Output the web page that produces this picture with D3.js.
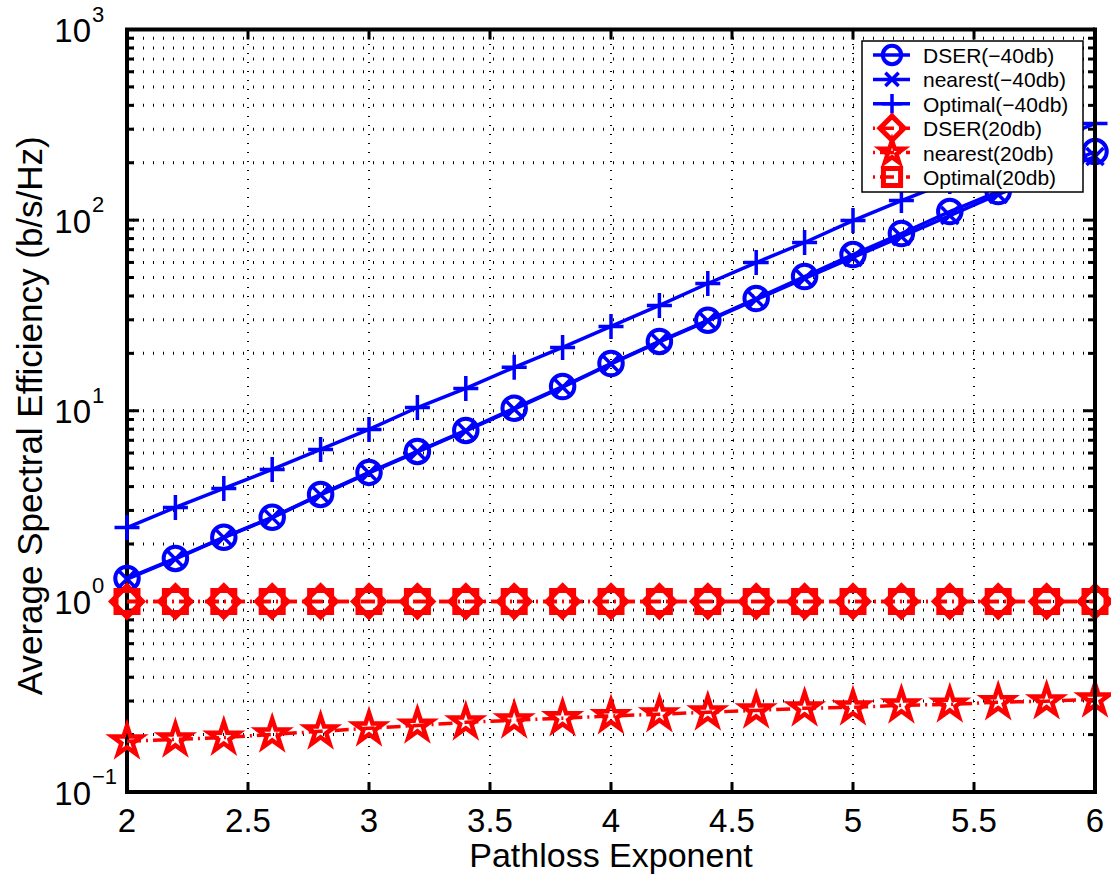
<!DOCTYPE html>
<html><head><meta charset="utf-8">
<script src="https://cdn.jsdelivr.net/npm/d3@7"></script>
<style>body{margin:0;background:#fff}svg{display:block}text{font-family:"Liberation Sans",Arial,Helvetica,sans-serif;fill:#000}</style>
</head><body><svg id="c" width="1111" height="879"></svg>
<script>
const pathloss = [2.0,2.2,2.4,2.6,2.8,3.0,3.2,3.4,3.6,3.8,4.0,4.2,4.4,4.6,4.8,5.0,5.2,5.4,5.6,5.8,6.0];
const dserM40 = [1.32,1.68,2.17,2.76,3.64,4.75,6.12,7.88,10.3,13.4,17.7,23.1,29.8,38.8,50.6,66.0,85.1,110.9,141.3,179.8,229];
const nearestM40 = [1.31,1.67,2.16,2.75,3.62,4.72,6.09,7.84,10.2,13.3,17.6,23.0,29.6,38.3,49.4,63.7,82.0,105.7,136.3,171.4,215.6];
const optimalM40 = [2.44,3.11,3.91,4.92,6.27,7.98,10.4,13.1,16.9,21.5,27.7,35.7,46.5,59.9,76.3,99.5,126.7,159.4,200.5,255,321];
const dser20 = [1,1,1,1,1,1,1,1,1,1,1,1,1,1,1,1,1,1,1,1,1];
const nearest20 = [0.1845,0.1888,0.193,0.2005,0.208,0.216,0.2235,0.232,0.238,0.244,0.2505,0.256,0.262,0.268,0.275,0.278,0.285,0.288,0.296,0.2995,0.306];
const optimal20 = [1,1,1,1,1,1,1,1,1,1,1,1,1,1,1,1,1,1,1,1,1];
const xTicks = [2,2.5,3,3.5,4,4.5,5,5.5,6];
const xTickLabels = ["2","2.5","3","3.5","4","4.5","5","5.5","6"];
const yDecades = [-1,0,1,2,3];
const seriesNames = ["DSER(\u221240db)","nearest(\u221240db)","Optimal(\u221240db)","DSER(20db)","nearest(20db)","Optimal(20db)"];
const xLabel = "Pathloss Exponent";
const yLabel = "Average Spectral Efficiency (b/s/Hz)";

const BLUE = "#0000ff", RED = "#ff0000";
const series = [
  {name: seriesNames[0], vals: dserM40, color: BLUE, marker: "circle", dash: null, mw: 4},
  {name: seriesNames[1], vals: nearestM40, color: BLUE, marker: "x", dash: null, mw: 3.5},
  {name: seriesNames[2], vals: optimalM40, color: BLUE, marker: "plus", dash: null, mw: 3.5},
  {name: seriesNames[3], vals: dser20, color: RED, marker: "diamond", dash: "14,5,2,5", mw: 5},
  {name: seriesNames[4], vals: nearest20, color: RED, marker: "star", dash: "14,5,2,5", mw: 4.5},
  {name: seriesNames[5], vals: optimal20, color: RED, marker: "square", dash: "14,5,2,5", mw: 5}
];

const L = 127, R = 1095, T = 29.5, B = 792;
const x = d3.scaleLinear().domain([2,6]).range([L,R]);
const y = d3.scaleLog().domain([0.1,1000]).range([B,T]);
const svg = d3.select("#c");

// grid
const gridVals = [];
for (let d = -1; d <= 2; d++) for (let m = 1; m <= 9; m++) gridVals.push(m*Math.pow(10,d));
gridVals.push(1000);
const g = svg.append("g");
g.selectAll("line.hg").data(gridVals.filter(v => v > 0.1 && v < 1000)).join("line")
  .attr("x1", L).attr("x2", R).attr("y1", d => y(d)).attr("y2", d => y(d))
  .attr("stroke", "#000").attr("stroke-width", 3).attr("stroke-dasharray", "1,9").attr("stroke-dashoffset", -6);
g.selectAll("line.vg").data(xTicks.filter(v => v > 2 && v < 6)).join("line")
  .attr("x1", d => x(d)).attr("x2", d => x(d)).attr("y1", B).attr("y2", T)
  .attr("stroke", "#000").attr("stroke-width", 2).attr("stroke-dasharray", "1,8");

// ticks
const tk = svg.append("g").attr("stroke", "#000").attr("stroke-width", 3);
gridVals.forEach(v => {
  const major = Math.abs(Math.log10(v) - Math.round(Math.log10(v))) < 1e-9;
  const len = major ? 12 : 7;
  tk.append("line").attr("x1", L).attr("x2", L+len).attr("y1", y(v)).attr("y2", y(v));
  tk.append("line").attr("x1", R).attr("x2", R-len).attr("y1", y(v)).attr("y2", y(v));
});
xTicks.forEach(v => {
  tk.append("line").attr("x1", x(v)).attr("x2", x(v)).attr("y1", B).attr("y2", B-10);
  tk.append("line").attr("x1", x(v)).attr("x2", x(v)).attr("y1", T).attr("y2", T+10);
});

// box (left, bottom, top)
svg.append("path").attr("d", `M${R},${T}H${L}V${B}H${R}`).attr("fill","none").attr("stroke","#000").attr("stroke-width",4);

// tick labels
svg.selectAll("text.xt").data(xTicks).join("text")
  .attr("x", d => x(d)).attr("y", 832).attr("text-anchor","middle").attr("font-size", 33)
  .text((d,i) => xTickLabels[i]);
yDecades.forEach(e => {
  const yy = y(Math.pow(10,e));
  svg.append("text").attr("x", 91).attr("y", yy+12.5).attr("text-anchor","end").attr("font-size",33).text("10");
  svg.append("text").attr("x", 92).attr("y", yy-8).attr("font-size",22).text(e < 0 ? "\u2212" + Math.abs(e) : String(e));
});

// axis labels
svg.append("text").attr("x", (L+R)/2).attr("y", 867).attr("text-anchor","middle").attr("font-size",34).text(xLabel);
svg.append("text").attr("transform", `translate(42,${(T+B)/2 + 5}) rotate(-90)`).attr("text-anchor","middle").attr("font-size",35).text(yLabel);

// markers
function markerPath(type, s) {
  const p = d3.path();
  if (type === "circle") { p.moveTo(11.75*s,0); p.arc(0,0,11.75*s,0,2*Math.PI); }
  else if (type === "x") { const a=8.5*s; p.moveTo(-a,-a); p.lineTo(a,a); p.moveTo(-a,a); p.lineTo(a,-a); }
  else if (type === "plus") { const a=12.5*s; p.moveTo(-a,0); p.lineTo(a,0); p.moveTo(0,-a); p.lineTo(0,a); }
  else if (type === "diamond") { const a=15.5*s; p.moveTo(0,-a); p.lineTo(a,0); p.lineTo(0,a); p.lineTo(-a,0); p.closePath(); }
  else if (type === "square") { const a=11*s; p.rect(-a,-a,2*a,2*a); }
  else if (type === "star") {
    const Ro=15.5*s, Ri=Ro*0.382;
    for (let i=0;i<10;i++){ const r=i%2?Ri:Ro; const ang=-Math.PI/2+i*Math.PI/5; const px=r*Math.cos(ang), py=r*Math.sin(ang); if(i===0)p.moveTo(px,py); else p.lineTo(px,py);} p.closePath();
  }
  return p.toString();
}

const line = d3.line().x((d,i) => x(pathloss[i])).y(d => y(d));
series.forEach(s => {
  const gs = svg.append("g");
  gs.append("path").attr("d", line(s.vals)).attr("fill","none").attr("stroke", s.color).attr("stroke-width", 3.5)
    .attr("stroke-dasharray", s.dash);
  gs.selectAll("path.m").data(s.vals).join("path")
    .attr("transform", (d,i) => `translate(${x(pathloss[i])},${y(d)})`)
    .attr("d", markerPath(s.marker, 1)).attr("fill","none").attr("stroke", s.color).attr("stroke-width", s.mw)
    .attr("stroke-linejoin","miter");
});

// right axis on top
svg.append("line").attr("x1",R).attr("x2",R).attr("y1",T-2).attr("y2",B+2).attr("stroke","#000").attr("stroke-width",4);

// legend
const lg = svg.append("g");
lg.append("rect").attr("x",862).attr("y",41).attr("width",221).attr("height",151).attr("fill","#fff").attr("stroke","#000").attr("stroke-width",1.5);
series.forEach((s,i) => {
  const base = 63 + i*24.4, cy = base - 8;
  lg.append("line").attr("x1",873).attr("x2",910).attr("y1",cy).attr("y2",cy).attr("stroke",s.color).attr("stroke-width",3.5).attr("stroke-dasharray", s.dash ? "2,5,14,5" : null);
  lg.append("path").attr("transform",`translate(892,${cy})`).attr("d",markerPath(s.marker,0.78)).attr("fill","none").attr("stroke",s.color).attr("stroke-width",s.mw);
  lg.append("text").attr("x",923).attr("y",base).attr("font-size",21).text(s.name);
});
</script></body></html>
